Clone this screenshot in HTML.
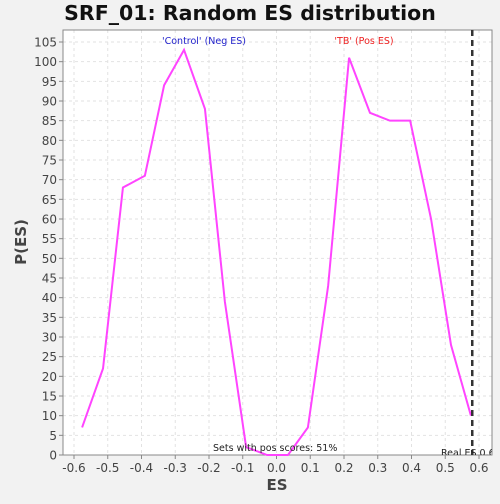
<!DOCTYPE html>
<html><head><meta charset="utf-8"><style>
body{margin:0;background:#f2f2f2;font-family:"DejaVu Sans","Liberation Sans",sans-serif;}
svg text{font-family:"DejaVu Sans","Liberation Sans",sans-serif;}
</style></head><body>
<svg id="chart" width="500" height="500" xmlns="http://www.w3.org/2000/svg">
<defs><clipPath id="pc"><rect x="63" y="30" width="429" height="425"/></clipPath></defs>
<rect width="500" height="500" fill="#f2f2f2"/>
<text x="250" y="20" text-anchor="middle" font-size="20.5" font-weight="bold" fill="#111">SRF_01: Random ES distribution</text>
<g id="plot"></g>
</svg>
<script>
const xValues=[-0.576,-0.514,-0.455,-0.39,-0.333,-0.274,-0.212,-0.153,-0.09,-0.028,0.034,0.093,0.153,0.215,0.277,0.336,0.396,0.458,0.517,0.576];
const yValues=[7,22,68,71,94,103,88,39,2,0,0,7,43,101,87,85,85,60,28,10];
const xTicks=[-0.6,-0.5,-0.4,-0.3,-0.2,-0.1,0.0,0.1,0.2,0.3,0.4,0.5,0.6];
const yTicks=[0,5,10,15,20,25,30,35,40,45,50,55,60,65,70,75,80,85,90,95,100,105];
const realES=[0.58];
const L=63,R=492,T=30,B=455;
const xs=v=>74+(v+0.6)*337.5;
const ys=v=>455-v*(413/105);
const NS="http://www.w3.org/2000/svg";
const g=document.getElementById('plot');
function mk(t,a){const e=document.createElementNS(NS,t);for(const k in a)e.setAttribute(k,a[k]);g.appendChild(e);return e;}
const bg=mk('rect',{x:L,y:T,width:R-L,height:B-T,fill:'#fff'});


xTicks.forEach(v=>{const x=xs(v);
 const gl=mk('line',{x1:x,x2:x,y1:T,y2:B,stroke:'#e2e2e2','stroke-dasharray':'3,3'});
 
 
 mk('line',{x1:x,x2:x,y1:B,y2:B+4,stroke:'#888'});
 const t=mk('text',{x:x,y:472,'text-anchor':'middle','font-size':12,fill:'#444'});t.textContent=v.toFixed(1);
 
 
});
yTicks.forEach(v=>{const y=ys(v);
 const gl=mk('line',{x1:L,x2:R,y1:y,y2:y,stroke:'#e2e2e2','stroke-dasharray':'3,3'});
 
 
 mk('line',{x1:L-4,x2:L,y1:y,y2:y,stroke:'#888'});
 const t=mk('text',{x:L-6,y:y+4.5,'text-anchor':'end','font-size':12,fill:'#444'});t.textContent=v;
 
 
});
const fr=mk('rect',{x:L,y:T,width:R-L,height:B-T,fill:'none',stroke:'#888'});


const line=mk('polyline',{points:xValues.map((x,i)=>xs(x)+','+ys(yValues[i])).join(' '),fill:'none',stroke:'#ff44ff','stroke-width':2});


realES.forEach(v=>{const l=mk('line',{x1:xs(v),x2:xs(v),y1:T,y2:B,stroke:'#333','stroke-width':2.5,'stroke-dasharray':'6,4'});
 
 });
function lab(x,y,s,txt,fill,anchor,name,w){const t=mk('text',{x:x,y:y,'font-size':s,fill:fill,'text-anchor':anchor||'start'});if(w)t.setAttribute('font-weight',w);t.textContent=txt;
 
 return t;}
lab(204,44,9.5,"'Control' (Neg ES)",'#2222cc','middle','neg-es-label');
lab(364,44,9.5,"'TB' (Pos ES)",'#ee2222','middle','pos-es-label');
lab(213,451,9.5,'Sets with pos scores: 51%','#222','start','pos-scores-label');
const re=lab(441,456,9.5,'Real ES 0.6','#222','start','real-es-label');
re.setAttribute('clip-path','url(#pc)');
lab(277,490,15,'ES','#444','middle','x-axis-title','bold');
const yt=lab(26,242,15,'P(ES)','#444','middle','y-axis-title','bold');
yt.setAttribute('transform','rotate(-90 26 242)');
</script>
</body></html>
